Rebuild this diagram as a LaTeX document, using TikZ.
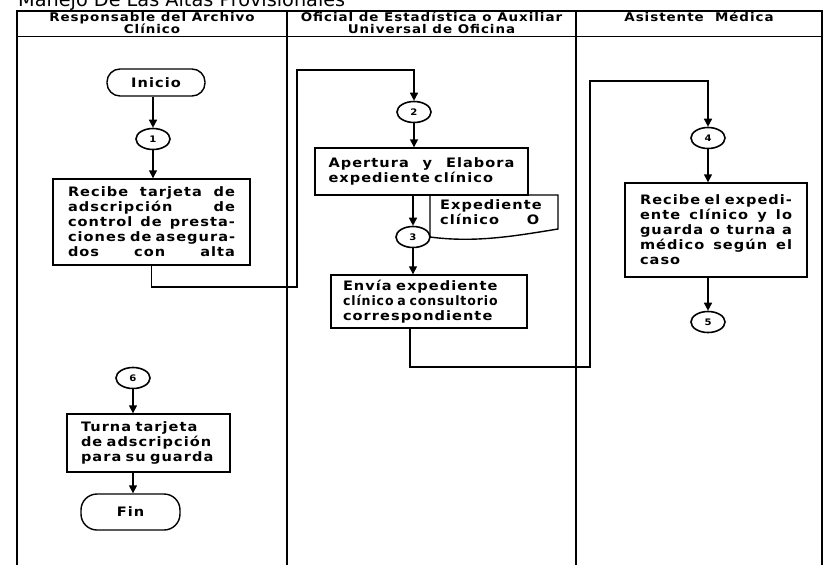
\documentclass[tikz,border=0pt]{standalone}
\usepackage{fontspec}
\usepackage{graphicx}
\usetikzlibrary{arrows.meta,shapes.geometric,calc}
\newfontfamily\sheettitlefont{DejaVu Sans}
\newfontfamily\flowfont{DejaVu Sans}[FakeStretch=1.12,LetterSpace=8]
\newcommand\boxfont{\flowfont\bfseries\fontsize{13}{15}\selectfont}
\newcommand\headfont{\flowfont\bfseries\fontsize{12}{12}\selectfont}
\newcommand\numfont{\flowfont\bfseries\fontsize{9}{10}\selectfont}
% a line whose words are spread over a given width
\newcommand\spreadline[2]{\leavevmode\hbox to #1{#2}}
\begin{document}
\begin{tikzpicture}[x=1pt,y=-1pt,
  lane/.style={line width=1.3pt},
  flow/.style={line width=1.4pt},
  arr/.style={flow,-{Triangle[length=8pt,width=8pt]}},
  stepbox/.style={draw,line width=1.4pt,font=\boxfont,align=left,inner ysep=0pt},
  term/.style={draw,line width=1.4pt,font=\boxfont,inner sep=0pt},
  conn/.style={draw,ellipse,line width=1.6pt,minimum width=34pt,minimum height=21pt,inner sep=0pt,font=\numfont},
  head/.style={font=\headfont,anchor=base,inner sep=0pt}]

\useasboundingbox (0,0) rectangle (825,565);
\fill[white] (0,0) rectangle (825,565);

% title (partly above the page edge)
\node[anchor=base west,inner sep=0pt] (title) at (18,6)
  {\resizebox{327pt}{!}{\sheettitlefont Manejo De Las Altas Provisionales}};

% swimlanes
\draw[lane] (17,565) -- (17,11) -- (822,11) -- (822,565);
\draw[lane] (17,36.5) -- (822,36.5);
\draw[lane] (287,11) -- (287,565);
\draw[lane] (576,11) -- (576,565);

\node[head] (h1a) at (152,21) {Responsable del Archivo};
\node[head] (h1b) at (152,33) {Clínico};
\node[head] (h2a) at (431.5,21) {Oficial de Estadística o Auxiliar};
\node[head] (h2b) at (431.5,33) {Universal de Oficina};
\node[head] (h3) at (699,21) {Asistente\ \ Médica};

% lane 1
\node[term,minimum width=98pt,minimum height=27pt,rounded corners=13pt] (inicio) at (156,82.5) {Inicio};
\node[conn] (c1) at (153,139) {1};
\node[stepbox,text width=167pt,inner xsep=15pt,minimum height=86pt] (b1) at (151.5,222)
  {\spreadline{167pt}{Recibe \hfill tarjeta \hfill de}\\
   \spreadline{167pt}{adscripción \hfill de}\\
   \spreadline{167pt}{control \hfill de \hfill presta-}\\
   \spreadline{167pt}{ciones \hfill de \hfill asegura-}\\
   \spreadline{167pt}{dos \hfill con \hfill alta}};
\node[conn] (c6) at (133,378) {6};
\node[stepbox,text width=135pt,inner xsep=14pt,minimum height=58pt] (b5) at (148.5,443)
  {Turna tarjeta\\de adscripción\\para su guarda};
\node[term,minimum width=99pt,minimum height=36pt,rounded corners=16pt] (fin) at (130.5,512) {Fin};

% lane 2
\node[conn] (c2) at (414,112) {2};
\node[stepbox,text width=186pt,inner xsep=13.5pt,minimum height=47pt] (b2) at (421.5,171.5)
  {\spreadline{186pt}{Apertura \hfill y \hfill Elabora}\\expediente clínico};
\draw[flow] (430,195) -- (430,237) .. controls (475,243) and (515,236) .. (558,229) -- (558,195) -- cycle;
\node[font=\boxfont,align=left,text width=105pt,inner sep=0pt,anchor=north west] (doc) at (440,199)
  {Expediente\\\spreadline{105pt}{clínico \hfill O\kern6pt}};
\node[conn] (c3) at (413,237) {3};
\node[stepbox,text width=172pt,inner xsep=12pt,minimum height=53pt] (b3) at (429,301.5)
  {\mbox{Envía expediente}\\\scalebox{0.86}[1]{clínico a consultorio}\\\mbox{correspondiente}};

% lane 3
\node[conn] (c4) at (708,138) {4};
\node[stepbox,text width=152pt,inner xsep=15pt,minimum height=94pt] (b4) at (716,230)
  {\spreadline{152pt}{Recibe \hfill el \hfill expedi-}\\
   \spreadline{152pt}{ente \hfill clínico \hfill y \hfill lo}\\
   \spreadline{152pt}{guarda \hfill o \hfill turna \hfill a}\\
   \spreadline{152pt}{médico \hfill según \hfill el}\\
   caso};
\node[conn] (c5) at (708,322) {5};

% bends of the long connectors
\coordinate (k1) at (297,287);
\coordinate (k2) at (297,70);
\coordinate (k3) at (590,367);
\coordinate (k4) at (590,81);

% connectors
\draw[arr] (inicio.south -| c1) -- (c1);
\draw[arr] (c1) -- (c1 |- b1.north);
\draw[arr] (b1.south) |- (k1) -- (k2) -| (c2.north);
\draw[arr] (c2) -- (c2 |- b2.north);
\draw[arr] (b2.south -| c3) -- (c3);
\draw[arr] (c3) -- (c3 |- b3.north);
\draw[arr] ([xshift=-19pt]b3.south) |- (k3) -- (k4) -| (c4.north);
\draw[arr] (c4) -- (c4 |- b4.north);
\draw[arr] (b4.south -| c5) -- (c5);
\draw[arr] (c6) -- (c6 |- b5.north);
\draw[arr] (b5.south -| c6) -- (c6 |- fin.north);
\end{tikzpicture}
\end{document}
